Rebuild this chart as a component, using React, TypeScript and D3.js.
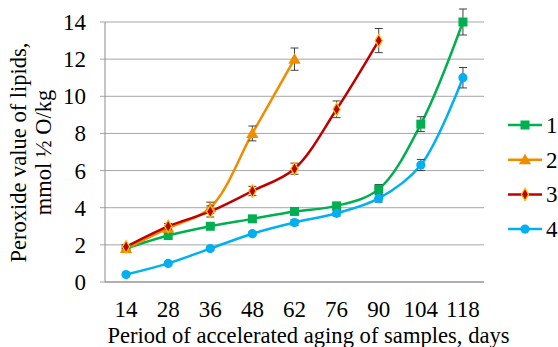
import React from 'react';
import * as d3 from 'd3';

const days = ['14', '28', '36', '48', '62', '76', '90', '104', '118'];
const yTicks = [0, 2, 4, 6, 8, 10, 12, 14];

const sample1 = [1.8, 2.5, 3.0, 3.4, 3.8, 4.1, 5.0, 8.5, 14.0];
const sample2 = [1.8, 2.9, 4.0, 8.0, 12.0];
const sample3 = [1.9, 3.0, 3.8, 4.9, 6.1, 9.3, 13.0];
const sample4 = [0.4, 1.0, 1.8, 2.6, 3.2, 3.7, 4.5, 6.3, 11.0];

const err1 = [0.1, 0.15, 0.15, 0.15, 0.15, 0.15, 0.25, 0.4, 0.7];
const err2 = [0.1, 0.15, 0.3, 0.4, 0.6];
const err3 = [0.1, 0.15, 0.3, 0.25, 0.3, 0.45, 0.65];
const err4 = [0.05, 0.1, 0.1, 0.1, 0.15, 0.15, 0.2, 0.3, 0.55];

const seriesNames = ['1', '2', '3', '4'];

const W = 558;
const H = 347;
const margin = { top: 22, right: 74, bottom: 65, left: 105 };
const FONT = '"Liberation Serif", "Times New Roman", serif';

const series = [
  { name: seriesNames[0], values: sample1, errs: err1, color: '#00b050', marker: 'square' },
  { name: seriesNames[1], values: sample2, errs: err2, color: '#f08c00', marker: 'triangle' },
  { name: seriesNames[2], values: sample3, errs: err3, color: '#c00000', marker: 'diamond' },
  { name: seriesNames[3], values: sample4, errs: err4, color: '#00b0f0', marker: 'circle' },
];

const Marker = ({ type, x, y, color }: { type: string; x: number; y: number; color: string }) => {
  if (type === 'square') return <rect x={x - 4.5} y={y - 4.5} width={9} height={9} fill={color} />;
  if (type === 'triangle') {
    const p = d3.symbol(d3.symbolTriangle, 65)();
    return <path d={p || ''} transform={`translate(${x},${y + 1})`} fill={color} />;
  }
  if (type === 'diamond') {
    const p = d3.symbol(d3.symbolDiamond, 45)();
    return <path d={p || ''} transform={`translate(${x},${y})`} fill={color} stroke="#ffc000" strokeWidth={1.2} />;
  }
  return <circle cx={x} cy={y} r={4.6} fill={color} />;
};

export default function App() {
  const innerW = W - margin.left - margin.right;
  const innerH = H - margin.top - margin.bottom;

  const x = d3.scaleBand().domain(days).range([0, innerW]);
  const y = d3.scaleLinear().domain([0, 14]).range([innerH, 0]);
  const cx = (i: number) => (x(days[i]) as number) + x.bandwidth() / 2;

  const line = d3.line<number>()
    .x((d, i) => cx(i))
    .y(d => y(d))
    .curve(d3.curveCatmullRom.alpha(0.5));

  const txt = { fontFamily: FONT, fill: '#000' };

  return (
    <svg width={W} height={H} style={{ position: 'absolute', left: 0, top: 0, background: '#fff' }}>
      <g transform={`translate(${margin.left},${margin.top})`}>
        {/* grid + y ticks */}
        {yTicks.map(t => (
          <g key={t}>
            <line x1={-5} x2={innerW} y1={y(t)} y2={y(t)} stroke="#a6a6a6" strokeWidth={1} />
            <text x={-19} y={y(t)} dy="0.35em" textAnchor="end" fontSize={23} style={txt}>{t}</text>
          </g>
        ))}
        <line x1={0} x2={0} y1={0} y2={innerH} stroke="#8c8c8c" strokeWidth={1} />
        <line x1={0} x2={innerW} y1={innerH} y2={innerH} stroke="#8c8c8c" strokeWidth={1} />

        {days.map((d, i) => (
          <text key={d} x={cx(i)} y={innerH + 35} textAnchor="middle" fontSize={23} style={txt}>{d}</text>
        ))}

        {/* lines */}
        {series.map(s => (
          <path key={s.name} d={line(s.values) || ''} fill="none" stroke={s.color} strokeWidth={2.5} />
        ))}

        {/* error bars + markers */}
        {series.map(s => (
          <g key={s.name}>
            {s.values.map((v, i) => (
              <g key={i} stroke="#404040" strokeWidth={1}>
                <line x1={cx(i)} x2={cx(i)} y1={y(v - s.errs[i])} y2={y(v + s.errs[i])} />
                <line x1={cx(i) - 4} x2={cx(i) + 4} y1={y(v - s.errs[i])} y2={y(v - s.errs[i])} />
                <line x1={cx(i) - 4} x2={cx(i) + 4} y1={y(v + s.errs[i])} y2={y(v + s.errs[i])} />
              </g>
            ))}
            {s.values.map((v, i) => (
              <Marker key={i} type={s.marker} x={cx(i)} y={y(v)} color={s.color} />
            ))}
          </g>
        ))}
      </g>

      {/* legend */}
      {series.map((s, i) => {
        const ly = 125 + i * 34.7;
        return (
          <g key={s.name}>
            <line x1={508} x2={542} y1={ly} y2={ly} stroke={s.color} strokeWidth={2.5} />
            <Marker type={s.marker} x={525} y={ly} color={s.color} />
            <text x={546} y={ly} dy="0.35em" fontSize={23} style={txt}>{s.name}</text>
          </g>
        );
      })}

      {/* axis titles */}
      <text x={308.5} y={343} textAnchor="middle" fontSize={22.6} style={txt}>Period of accelerated aging of samples, days</text>
      <text transform="translate(26,152.5) rotate(-90)" textAnchor="middle" fontSize={22.5} style={txt}>Peroxide value of lipids,</text>
      <text transform="translate(51,152.5) rotate(-90)" textAnchor="middle" fontSize={22.5} style={txt}>mmol ½ O/kg</text>
    </svg>
  );
}
